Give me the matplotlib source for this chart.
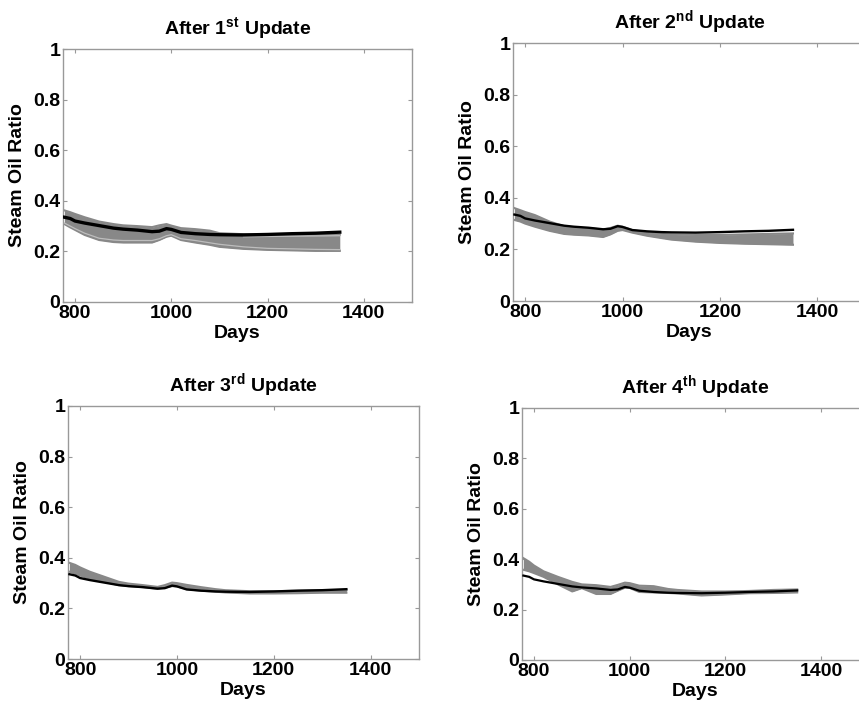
"""Steam oil ratio ensemble after each history-matching update (2x2 panels)."""
import matplotlib
matplotlib.use("Agg")
import matplotlib.pyplot as plt

plt.rcParams["font.family"] = ["Liberation Sans", "DejaVu Sans"]
plt.rcParams["font.weight"] = "bold"
plt.rcParams["mathtext.fontset"] = "custom"
plt.rcParams["mathtext.rm"] = "Liberation Sans:bold"
plt.rcParams["mathtext.bf"] = "Liberation Sans:bold"

# data
days = [778, 790, 800, 820, 850, 880, 900, 930, 960, 975, 990,
        1000, 1020, 1050, 1080, 1100, 1150, 1200, 1250, 1300, 1350]

observed = [0.335, 0.330, 0.320, 0.312, 0.302, 0.292, 0.288, 0.284, 0.278, 0.280, 0.290,
            0.287, 0.275, 0.270, 0.267, 0.266, 0.265, 0.267, 0.270, 0.272, 0.276]

upd1_upper = [0.362, 0.355, 0.348, 0.335, 0.318, 0.308, 0.303, 0.300, 0.296, 0.303, 0.308,
              0.302, 0.292, 0.288, 0.282, 0.272, 0.268, 0.266, 0.266, 0.266, 0.266]
upd1_lower = [0.308, 0.295, 0.285, 0.265, 0.245, 0.237, 0.235, 0.235, 0.235, 0.245, 0.258,
              0.262, 0.245, 0.235, 0.226, 0.218, 0.210, 0.206, 0.204, 0.202, 0.202]
upd1_light = [0.312, 0.300, 0.290, 0.272, 0.252, 0.245, 0.243, 0.243, 0.243, 0.250, 0.262,
              0.266, 0.250, 0.243, 0.234, 0.228, 0.218, 0.212, 0.210, 0.208, 0.207]
upd1_light_days = [1150, 1200, 1250, 1300, 1350]
upd1_light2 = [0.258, 0.259, 0.260, 0.261, 0.262]

upd2_upper = [0.360, 0.352, 0.345, 0.333, 0.308, 0.290, 0.285, 0.282, 0.277, 0.283, 0.292,
              0.288, 0.275, 0.266, 0.260, 0.258, 0.256, 0.256, 0.258, 0.260, 0.262]
upd2_lower = [0.314, 0.308, 0.300, 0.288, 0.272, 0.260, 0.257, 0.254, 0.248, 0.258, 0.272,
              0.275, 0.265, 0.253, 0.244, 0.238, 0.230, 0.225, 0.222, 0.220, 0.218]

upd3_upper = [0.380, 0.372, 0.362, 0.345, 0.325, 0.305, 0.298, 0.292, 0.285, 0.292, 0.302,
              0.300, 0.293, 0.284, 0.276, 0.272, 0.268, 0.268, 0.270, 0.272, 0.272]
upd3_lower = [0.345, 0.338, 0.330, 0.318, 0.305, 0.292, 0.288, 0.284, 0.278, 0.282, 0.288,
              0.287, 0.276, 0.270, 0.266, 0.263, 0.259, 0.259, 0.260, 0.262, 0.262]

upd4_upper = [0.404, 0.390, 0.375, 0.352, 0.330, 0.310, 0.300, 0.297, 0.290, 0.298, 0.307,
              0.305, 0.295, 0.293, 0.282, 0.278, 0.272, 0.272, 0.274, 0.278, 0.280]
upd4_lower = [0.358, 0.352, 0.345, 0.330, 0.300, 0.272, 0.285, 0.262, 0.262, 0.275, 0.287,
              0.286, 0.270, 0.268, 0.266, 0.264, 0.256, 0.260, 0.265, 0.266, 0.268]

titles = [r"After 1$^{\mathrm{st}}$ Update", r"After 2$^{\mathrm{nd}}$ Update",
          r"After 3$^{\mathrm{rd}}$ Update", r"After 4$^{\mathrm{th}}$ Update"]
x_ticks = [800, 1000, 1200, 1400]
y_ticks = [0, 0.2, 0.4, 0.6, 0.8, 1]
y_tick_labels = ["0", "0.2", "0.4", "0.6", "0.8", "1"]

BAND = "#888888"
FRAME = "#999999"

fig = plt.figure(figsize=(8.59, 7.09), dpi=100)

rects_px = [(63, 49, 349, 253), (513, 43, 353, 258),
            (68, 406, 351, 253), (522, 408, 347, 252)]
bands = [(upd1_upper, upd1_lower), (upd2_upper, upd2_lower),
         (upd3_upper, upd3_lower), (upd4_upper, upd4_lower)]
obs_lw = [2.4, 1.7, 1.7, 1.6]

W, H = 859, 709
for i, ((l, t, w, h), (up, lo), title) in enumerate(zip(rects_px, bands, titles)):
    ax = fig.add_axes([l / W, (H - t - h) / H, w / W, h / H])

    ax.fill_between(days, lo, up, color=BAND, lw=0, zorder=2)
    ax.plot(days, up, color=BAND, lw=1.5, zorder=2)
    ax.plot(days, lo, color=BAND, lw=1.5, zorder=2)
    if i == 0:
        ax.plot(days, upd1_light, color="#bdbdbd", lw=0.9, zorder=3)
        ax.plot(upd1_light_days, upd1_light2, color="#bdbdbd", lw=0.9, zorder=3)
    ax.plot(days, observed, color="black", lw=obs_lw[i], zorder=4)

    ax.set_xlim(775, 1500)
    ax.set_ylim(0, 1)
    ax.set_xticks(x_ticks)
    ax.set_yticks(y_ticks)
    ax.set_yticklabels(y_tick_labels)
    ax.tick_params(direction="in", length=3, width=0.8, color=FRAME,
                   top=True, right=True, labelsize=14, pad=2)
    for sp in ax.spines.values():
        sp.set_color(FRAME)
        sp.set_linewidth(1.0)

    ax.set_xlabel("Days", fontsize=14, fontweight="bold", labelpad=2)
    ax.set_ylabel("Steam Oil Ratio", fontsize=14, fontweight="bold", labelpad=5)
    ax.set_title(title, fontsize=14, fontweight="bold", pad=10)

fig.savefig("out.png", dpi=100)
